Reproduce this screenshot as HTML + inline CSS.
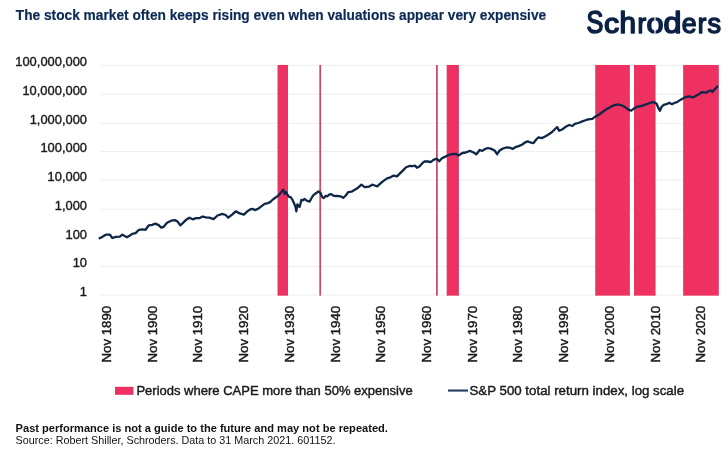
<!DOCTYPE html>
<html><head><meta charset="utf-8"><title>Chart</title>
<style>html,body{margin:0;padding:0;background:#fff;}body{width:727px;height:453px;overflow:hidden;font-family:"Liberation Sans",sans-serif;}svg{display:block;opacity:0.999;will-change:transform;}text{font-family:"Liberation Sans",sans-serif;}</style></head><body>
<svg width="727" height="453" viewBox="0 0 727 453">
<rect width="727" height="453" fill="#ffffff"/>
<text x="15.8" y="19.55" font-size="14.6" font-weight="bold" fill="#0c2a55" stroke="#0c2a55" stroke-width="0.2" textLength="530.4" lengthAdjust="spacingAndGlyphs">The stock market often keeps rising even when valuations appear very expensive</text>
<text transform="translate(586.57,32.8) scale(0.809,1.0)" font-size="31.3" fill="#0b2146" stroke="#0b2146" stroke-width="1.6" stroke-linejoin="round">S</text>
<text transform="translate(603.99,32.8) scale(1.025,0.93)" font-size="29.5" fill="#0b2146" stroke="#0b2146" stroke-width="1.6" stroke-linejoin="round">c</text>
<text transform="translate(619.54,32.8) scale(1.007,1.0)" font-size="29.5" fill="#0b2146" stroke="#0b2146" stroke-width="1.6" stroke-linejoin="round">h</text>
<text transform="translate(637.42,32.8) scale(0.878,0.93)" font-size="29.5" fill="#0b2146" stroke="#0b2146" stroke-width="1.6" stroke-linejoin="round">r</text>
<text transform="translate(646.48,32.8) scale(1.039,0.93)" font-size="29.5" fill="#0b2146" stroke="#0b2146" stroke-width="1.6" stroke-linejoin="round">o</text>
<text transform="translate(663.55,32.8) scale(1.092,1.0)" font-size="29.5" fill="#0b2146" stroke="#0b2146" stroke-width="1.6" stroke-linejoin="round">d</text>
<text transform="translate(681.75,32.8) scale(0.904,0.93)" font-size="29.5" fill="#0b2146" stroke="#0b2146" stroke-width="1.6" stroke-linejoin="round">e</text>
<text transform="translate(697.73,32.8) scale(0.867,0.93)" font-size="29.5" fill="#0b2146" stroke="#0b2146" stroke-width="1.6" stroke-linejoin="round">r</text>
<text transform="translate(707.50,32.8) scale(0.917,0.93)" font-size="29.5" fill="#0b2146" stroke="#0b2146" stroke-width="1.6" stroke-linejoin="round">s</text>
<rect x="654.4" y="16" width="1.15" height="6.2" fill="#ffffff"/>
<rect x="654.4" y="28.8" width="1.15" height="6.2" fill="#ffffff"/>
<line x1="100.5" x2="719" y1="65.30" y2="65.30" stroke="#eeeeee" stroke-width="1"/>
<line x1="100.5" x2="719" y1="94.20" y2="94.20" stroke="#eeeeee" stroke-width="1"/>
<line x1="100.5" x2="719" y1="123.30" y2="123.30" stroke="#eeeeee" stroke-width="1"/>
<line x1="100.5" x2="719" y1="151.60" y2="151.60" stroke="#eeeeee" stroke-width="1"/>
<line x1="100.5" x2="719" y1="180.20" y2="180.20" stroke="#eeeeee" stroke-width="1"/>
<line x1="100.5" x2="719" y1="209.20" y2="209.20" stroke="#eeeeee" stroke-width="1"/>
<line x1="100.5" x2="719" y1="238.20" y2="238.20" stroke="#eeeeee" stroke-width="1"/>
<line x1="100.5" x2="719" y1="266.60" y2="266.60" stroke="#eeeeee" stroke-width="1"/>
<line x1="100.5" x2="719" y1="295.05" y2="295.05" stroke="#eeeeee" stroke-width="1"/>
<rect x="277.7" y="64.95" width="10.30" height="230.70" fill="#ee3160"/>
<rect x="277.7" y="64.95" width="0.8" height="230.70" fill="#cc4565" opacity="0.75"/>
<rect x="287.20" y="64.95" width="0.8" height="230.70" fill="#cc4565" opacity="0.75"/>
<rect x="446.8" y="64.95" width="11.95" height="230.70" fill="#ee3160"/>
<rect x="446.8" y="64.95" width="0.8" height="230.70" fill="#cc4565" opacity="0.75"/>
<rect x="457.95" y="64.95" width="0.8" height="230.70" fill="#cc4565" opacity="0.75"/>
<rect x="595.4" y="64.95" width="34.30" height="230.70" fill="#ee3160"/>
<rect x="595.4" y="64.95" width="0.8" height="230.70" fill="#cc4565" opacity="0.75"/>
<rect x="628.90" y="64.95" width="0.8" height="230.70" fill="#cc4565" opacity="0.75"/>
<rect x="634.0" y="64.95" width="21.40" height="230.70" fill="#ee3160"/>
<rect x="634.0" y="64.95" width="0.8" height="230.70" fill="#cc4565" opacity="0.75"/>
<rect x="654.60" y="64.95" width="0.8" height="230.70" fill="#cc4565" opacity="0.75"/>
<rect x="683.3" y="64.95" width="35.35" height="230.70" fill="#ee3160"/>
<rect x="683.3" y="64.95" width="0.8" height="230.70" fill="#cc4565" opacity="0.75"/>
<rect x="717.85" y="64.95" width="0.8" height="230.70" fill="#cc4565" opacity="0.75"/>
<rect x="319.33" y="64.95" width="1.75" height="230.70" fill="#cb4a68"/>
<rect x="436.03" y="64.95" width="1.75" height="230.70" fill="#cb4a68"/>
<path d="M99.6,238.2 L100.0,238.0 L102.5,236.7 L105.8,234.7 L109.9,234.7 L112.4,238.0 L115.7,236.9 L119.8,236.7 L122.3,234.7 L124.8,236.1 L126.9,237.2 L129.8,235.6 L132.2,233.9 L135.6,233.1 L138.9,229.8 L142.2,229.4 L145.5,229.8 L148.8,225.3 L152.1,224.8 L155.4,223.6 L158.7,225.1 L161.2,227.6 L163.7,226.8 L167.0,222.8 L171.2,220.7 L175.3,220.2 L177.8,221.8 L180.3,225.3 L182.7,223.1 L186.1,219.8 L189.4,217.7 L192.7,219.3 L196.0,218.2 L199.3,218.2 L202.6,216.5 L205.9,217.4 L209.2,217.7 L213.6,219.2 L217.5,215.5 L222.4,213.9 L225.7,215.0 L228.2,217.7 L232.4,214.4 L235.7,211.4 L239.8,213.4 L243.9,214.7 L247.3,211.4 L250.6,209.2 L253.0,208.9 L254.7,210.1 L258.0,208.9 L261.3,206.4 L264.6,203.9 L267.9,203.1 L270.0,202.1 L273.5,199.0 L277.9,195.9 L281.0,192.4 L283.2,189.6 L284.6,194.0 L285.9,191.9 L287.2,194.1 L289.0,196.8 L290.7,197.2 L292.5,199.9 L294.3,203.8 L295.6,207.4 L296.3,211.3 L297.4,204.3 L298.2,205.2 L299.6,206.9 L300.5,203.8 L301.3,199.9 L302.7,200.3 L304.4,199.0 L306.2,200.3 L308.0,201.2 L309.7,201.6 L311.0,199.0 L313.2,195.4 L315.9,193.2 L318.5,191.5 L320.3,192.8 L322.1,196.8 L323.8,198.1 L325.6,195.9 L327.4,196.3 L329.1,194.6 L330.9,194.1 L334.0,195.9 L337.4,196.0 L340.7,196.3 L343.2,197.9 L345.7,195.5 L348.2,192.2 L351.5,191.7 L354.8,189.7 L358.1,187.7 L361.4,184.7 L364.7,187.2 L368.9,186.7 L372.2,184.7 L374.7,185.5 L377.2,186.4 L380.5,183.4 L383.8,180.6 L387.1,178.4 L390.4,177.3 L393.7,175.6 L397.0,176.4 L399.5,173.9 L402.8,170.6 L406.1,167.3 L409.4,166.0 L412.7,166.2 L415.2,165.7 L416.9,167.8 L419.4,166.5 L421.9,163.7 L424.3,161.5 L427.6,161.5 L431.0,162.0 L433.4,159.9 L436.8,158.7 L439.2,161.2 L441.7,158.5 L443.3,157.6 L447.5,155.5 L451.6,154.2 L455.7,153.8 L458.5,155.5 L462.4,153.0 L465.7,152.5 L469.8,150.9 L473.1,152.2 L476.4,154.3 L479.7,150.0 L482.2,150.9 L484.7,149.2 L488.0,148.0 L491.3,148.9 L494.6,150.5 L497.1,154.2 L499.6,150.5 L502.9,148.5 L506.2,147.5 L509.5,147.7 L512.8,148.9 L515.3,147.2 L518.6,146.1 L522.0,144.7 L525.3,142.3 L527.7,141.4 L531.1,142.7 L533.5,143.1 L536.0,139.8 L538.5,137.3 L541.8,138.1 L545.1,136.5 L548.4,134.5 L551.8,132.3 L555.1,129.0 L557.2,127.1 L559.1,130.8 L562.5,129.3 L565.8,126.7 L569.1,125.0 L572.4,126.0 L574.9,123.8 L578.2,123.0 L581.5,121.7 L584.8,120.5 L588.1,119.4 L592.3,118.9 L595.6,116.4 L598.9,114.7 L602.2,112.3 L605.5,109.8 L608.8,108.1 L612.1,106.1 L615.4,104.8 L618.7,104.5 L622.1,105.6 L625.4,107.3 L628.7,109.8 L631.2,110.6 L634.5,108.1 L637.8,106.5 L640.0,106.3 L643.3,105.3 L646.6,104.2 L651.0,102.5 L653.8,102.1 L656.6,103.7 L658.2,107.6 L659.9,110.8 L661.5,107.0 L663.7,104.9 L666.5,104.2 L669.2,102.7 L672.0,104.2 L674.2,103.0 L677.0,102.1 L680.3,99.9 L684.2,97.7 L688.6,96.4 L693.0,97.4 L697.4,95.1 L701.8,92.2 L706.2,92.7 L709.0,91.0 L710.6,90.3 L712.3,92.0 L714.5,89.4 L717.4,86.5" fill="none" stroke="#0e2748" stroke-width="2.3" stroke-linejoin="round" stroke-linecap="round"/>
<text transform="translate(87.0,65.75) scale(1.008,1)" font-size="12.8" fill="#1a1a1a" stroke="#1a1a1a" stroke-width="0.38" text-anchor="end">100,000,000</text>
<text transform="translate(87.0,94.65) scale(1.008,1)" font-size="12.8" fill="#1a1a1a" stroke="#1a1a1a" stroke-width="0.38" text-anchor="end">10,000,000</text>
<text transform="translate(87.0,123.75) scale(1.008,1)" font-size="12.8" fill="#1a1a1a" stroke="#1a1a1a" stroke-width="0.38" text-anchor="end">1,000,000</text>
<text transform="translate(87.0,152.05) scale(1.008,1)" font-size="12.8" fill="#1a1a1a" stroke="#1a1a1a" stroke-width="0.38" text-anchor="end">100,000</text>
<text transform="translate(87.0,180.65) scale(1.008,1)" font-size="12.8" fill="#1a1a1a" stroke="#1a1a1a" stroke-width="0.38" text-anchor="end">10,000</text>
<text transform="translate(87.0,209.65) scale(1.008,1)" font-size="12.8" fill="#1a1a1a" stroke="#1a1a1a" stroke-width="0.38" text-anchor="end">1,000</text>
<text transform="translate(87.0,238.65) scale(1.008,1)" font-size="12.8" fill="#1a1a1a" stroke="#1a1a1a" stroke-width="0.38" text-anchor="end">100</text>
<text transform="translate(87.0,267.05) scale(1.008,1)" font-size="12.8" fill="#1a1a1a" stroke="#1a1a1a" stroke-width="0.38" text-anchor="end">10</text>
<text transform="translate(87.0,295.50) scale(1.008,1)" font-size="12.8" fill="#1a1a1a" stroke="#1a1a1a" stroke-width="0.38" text-anchor="end">1</text>
<text transform="translate(111.05,362.5) rotate(-90)" font-size="12.7" fill="#1a1a1a" stroke="#1a1a1a" stroke-width="0.42" textLength="56.6" lengthAdjust="spacingAndGlyphs">Nov 1890</text>
<text transform="translate(156.76,362.5) rotate(-90)" font-size="12.7" fill="#1a1a1a" stroke="#1a1a1a" stroke-width="0.42" textLength="56.6" lengthAdjust="spacingAndGlyphs">Nov 1900</text>
<text transform="translate(202.47,362.5) rotate(-90)" font-size="12.7" fill="#1a1a1a" stroke="#1a1a1a" stroke-width="0.42" textLength="56.6" lengthAdjust="spacingAndGlyphs">Nov 1910</text>
<text transform="translate(248.18,362.5) rotate(-90)" font-size="12.7" fill="#1a1a1a" stroke="#1a1a1a" stroke-width="0.42" textLength="56.6" lengthAdjust="spacingAndGlyphs">Nov 1920</text>
<text transform="translate(293.89,362.5) rotate(-90)" font-size="12.7" fill="#1a1a1a" stroke="#1a1a1a" stroke-width="0.42" textLength="56.6" lengthAdjust="spacingAndGlyphs">Nov 1930</text>
<text transform="translate(339.60,362.5) rotate(-90)" font-size="12.7" fill="#1a1a1a" stroke="#1a1a1a" stroke-width="0.42" textLength="56.6" lengthAdjust="spacingAndGlyphs">Nov 1940</text>
<text transform="translate(385.31,362.5) rotate(-90)" font-size="12.7" fill="#1a1a1a" stroke="#1a1a1a" stroke-width="0.42" textLength="56.6" lengthAdjust="spacingAndGlyphs">Nov 1950</text>
<text transform="translate(431.02,362.5) rotate(-90)" font-size="12.7" fill="#1a1a1a" stroke="#1a1a1a" stroke-width="0.42" textLength="56.6" lengthAdjust="spacingAndGlyphs">Nov 1960</text>
<text transform="translate(476.73,362.5) rotate(-90)" font-size="12.7" fill="#1a1a1a" stroke="#1a1a1a" stroke-width="0.42" textLength="56.6" lengthAdjust="spacingAndGlyphs">Nov 1970</text>
<text transform="translate(522.44,362.5) rotate(-90)" font-size="12.7" fill="#1a1a1a" stroke="#1a1a1a" stroke-width="0.42" textLength="56.6" lengthAdjust="spacingAndGlyphs">Nov 1980</text>
<text transform="translate(568.15,362.5) rotate(-90)" font-size="12.7" fill="#1a1a1a" stroke="#1a1a1a" stroke-width="0.42" textLength="56.6" lengthAdjust="spacingAndGlyphs">Nov 1990</text>
<text transform="translate(613.86,362.5) rotate(-90)" font-size="12.7" fill="#1a1a1a" stroke="#1a1a1a" stroke-width="0.42" textLength="56.6" lengthAdjust="spacingAndGlyphs">Nov 2000</text>
<text transform="translate(659.57,362.5) rotate(-90)" font-size="12.7" fill="#1a1a1a" stroke="#1a1a1a" stroke-width="0.42" textLength="56.6" lengthAdjust="spacingAndGlyphs">Nov 2010</text>
<text transform="translate(705.28,362.5) rotate(-90)" font-size="12.7" fill="#1a1a1a" stroke="#1a1a1a" stroke-width="0.42" textLength="56.6" lengthAdjust="spacingAndGlyphs">Nov 2020</text>
<rect x="115" y="386.8" width="18.4" height="8" fill="#ee3160"/>
<text x="136.4" y="394.8" font-size="12.7" fill="#1a1a1a" stroke="#1a1a1a" stroke-width="0.42" textLength="276.3" lengthAdjust="spacingAndGlyphs">Periods where CAPE more than 50% expensive</text>
<line x1="448" x2="468" y1="390.55" y2="390.55" stroke="#223d5e" stroke-width="2.1"/>
<text x="469.5" y="394.8" font-size="12.7" fill="#1a1a1a" stroke="#1a1a1a" stroke-width="0.42" textLength="214.6" lengthAdjust="spacingAndGlyphs">S&amp;P 500 total return index, log scale</text>
<text x="15.6" y="431.7" font-size="10.6" font-weight="bold" fill="#111" textLength="372.3" lengthAdjust="spacingAndGlyphs">Past performance is not a guide to the future and may not be repeated.</text>
<text x="15.6" y="444.4" font-size="10.4" fill="#111" textLength="319.8" lengthAdjust="spacingAndGlyphs">Source: Robert Shiller, Schroders. Data to 31 March 2021. 601152.</text>
</svg></body></html>
